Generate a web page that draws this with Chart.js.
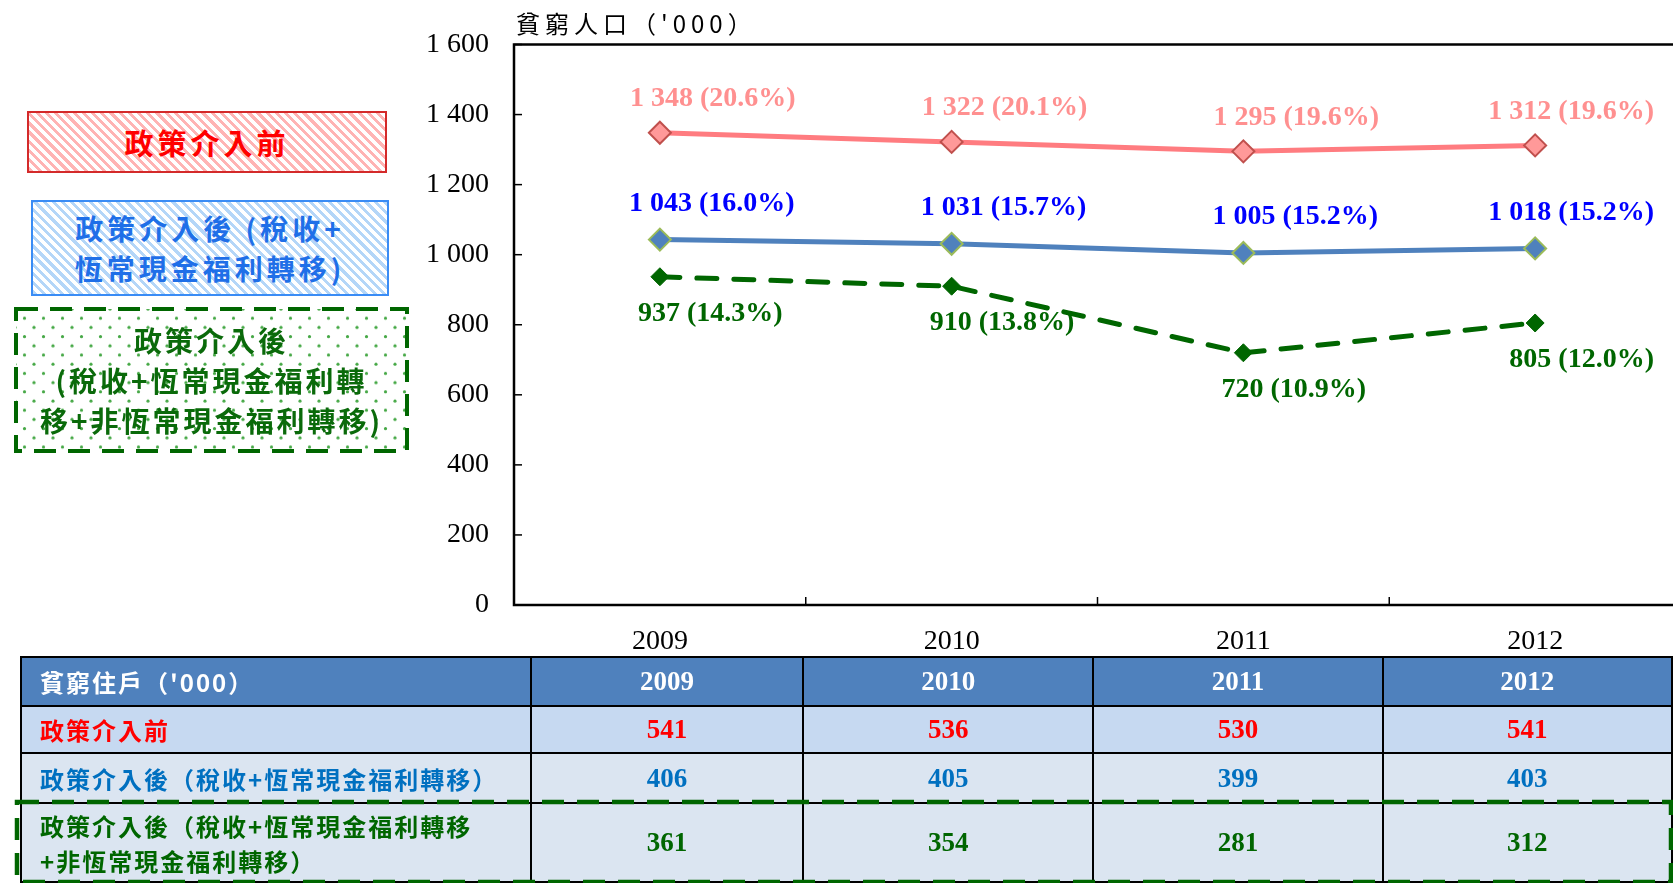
<!DOCTYPE html>
<html>
<head>
<meta charset="utf-8">
<script src="https://cdn.jsdelivr.net/npm/chart.js@4.4.1/dist/chart.umd.min.js"></script>
<style>
  html, body { margin:0; padding:0; background:#fff; width:1673px; height:883px; overflow:hidden; }
  #wrap { position:absolute; left:0; top:0; width:1700px; height:660px; }
  .cjk { font-family:"Noto Sans CJK TC","Noto Sans CJK SC",sans-serif; }
  #ytitle { position:absolute; left:516px; top:5px; font-size:24px; letter-spacing:5px; color:#000; white-space:nowrap; }
  .lbox { position:absolute; display:flex; flex-direction:column; align-items:center; justify-content:center; box-sizing:border-box; font-weight:700; text-align:center; white-space:nowrap; }
  #box1 { left:27px; top:111px; width:360px; height:62px; border:2px solid #D42A2A; color:#FF0000; font-size:29px; letter-spacing:4px;
    background:repeating-linear-gradient(45deg,#FFB4B4 0px,#FFB4B4 3px,#FFFFFF 3px,#FFFFFF 6.5px); }
  #box2 { left:31px; top:200px; width:358px; height:96px; border:2px solid #3A8CF5; color:#1F6FE8; font-size:28px; letter-spacing:4px; line-height:40px;
    background:repeating-linear-gradient(45deg,#B4D6F8 0px,#B4D6F8 3px,#FFFFFF 3px,#FFFFFF 6.5px); }
  #box3svg { position:absolute; left:12px; top:305px; }
  #box3 { left:14px; top:307px; width:395px; height:146px; color:#0A6A0A; font-size:28px; letter-spacing:3px; line-height:40px; }
  #tbl { position:absolute; left:20px; top:656px; border-collapse:collapse; table-layout:fixed; }
  #tbl td { border:2px solid #000; padding:0; box-sizing:border-box; }
  #tbl td.lab { padding-left:18px; text-align:left; font-size:24px; font-weight:700; letter-spacing:2px; white-space:nowrap; }
  #tbl td.val { text-align:center; font-family:"Liberation Serif","Times New Roman",serif; font-weight:700; font-size:27px; }
  #tbl tr.h td { background:#4F81BD; color:#fff; height:49px; }
  #tbl tr.r1 td { background:#C6D9F1; color:#FF0000; height:47px; }
  #tbl tr.r2 td { background:#DBE5F1; color:#0070C0; height:50px; }
  #tbl tr.r3 td { background:#DBE5F1; color:#006600; height:79px; }
  #tbl tr.r3 td.lab { line-height:35px; }
  #row3svg { position:absolute; left:0; top:798px; }
</style>
</head>
<body>
<div id="wrap"><canvas id="c" width="1700" height="660"></canvas></div>
<div id="ytitle" class="cjk"></div>

<div id="box1" class="lbox cjk"></div>
<svg id="box3svg" width="400" height="152">
  <defs>
    <pattern id="dots" width="19" height="18.4" patternUnits="userSpaceOnUse">
      <circle cx="3" cy="4" r="1.6" fill="#45A845"/>
      <circle cx="12.5" cy="13.2" r="1.6" fill="#45A845"/>
    </pattern>
  </defs>
  <rect x="4" y="4" width="391" height="142" fill="url(#dots)" stroke="#006600" stroke-width="4" stroke-dasharray="22 12"/>
</svg>
<div id="box2" class="lbox cjk"></div>
<div id="box3" class="lbox cjk"></div>

<table id="tbl" class="cjk">
  <colgroup><col style="width:510px"><col style="width:273px"><col style="width:291px"><col style="width:290px"><col style="width:290px"></colgroup>
  <tbody id="tb"></tbody>
</table>
<svg id="row3svg" width="1673" height="85">
  <rect x="17" y="4" width="1654" height="80" fill="none" stroke="#006600" stroke-width="4.5" stroke-dasharray="22 13"/>
</svg>

<script>
// ---------- data ----------
const years = ['2009', '2010', '2011', '2012'];
const seriesNames = ['政策介入前', '政策介入後（稅收+恆常現金福利轉移）', '政策介入後（稅收+恆常現金福利轉移+非恆常現金福利轉移）'];
const prePolicy = [1348, 1322, 1295, 1312];
const prePolicyPct = [20.6, 20.1, 19.6, 19.6];
const postRecurrent = [1043, 1031, 1005, 1018];
const postRecurrentPct = [16.0, 15.7, 15.2, 15.2];
const postAll = [937, 910, 720, 805];
const postAllPct = [14.3, 13.8, 10.9, 12.0];
const yTickValues = [0, 200, 400, 600, 800, 1000, 1200, 1400, 1600];
const yTitle = "貧窮人口（'000）";
const legendBox1 = ['政策介入前'];
const legendBox2 = ['政策介入後 (稅收+', '恆常現金福利轉移)'];
const legendBox3 = ['政策介入後', '(稅收+恆常現金福利轉', '移+非恆常現金福利轉移)'];
const tableHeader = "貧窮住戶（'000）";
const tableRowLabels = ['政策介入前', '政策介入後（稅收+恆常現金福利轉移）', ['政策介入後（稅收+恆常現金福利轉移', '+非恆常現金福利轉移）']];
const hhPre = [541, 536, 530, 541];
const hhRecurrent = [406, 405, 399, 403];
const hhAll = [361, 354, 281, 312];

// ---------- helpers ----------
function fmt(v) { return String(v).replace(/\B(?=(\d{3})+(?!\d))/g, ' '); }
function pctLabel(v, p) { return fmt(v) + ' (' + p.toFixed(1) + '%)'; }

// ---------- html parts ----------
document.getElementById('ytitle').textContent = yTitle;
function fillBox(id, lines) {
  const el = document.getElementById(id);
  lines.forEach(t => { const d = document.createElement('div'); d.textContent = t; el.appendChild(d); });
}
fillBox('box1', legendBox1);
fillBox('box2', legendBox2);
fillBox('box3', legendBox3);

const tb = document.getElementById('tb');
function addRow(cls, label, vals) {
  const tr = document.createElement('tr'); tr.className = cls;
  const td = document.createElement('td'); td.className = 'lab';
  if (Array.isArray(label)) { label.forEach(l => { const d = document.createElement('div'); d.textContent = l; td.appendChild(d); }); }
  else td.textContent = label;
  tr.appendChild(td);
  vals.forEach(v => { const c = document.createElement('td'); c.className = 'val'; c.textContent = v; tr.appendChild(c); });
  tb.appendChild(tr);
}
addRow('h', tableHeader, years);
addRow('r1', tableRowLabels[0], hhPre);
addRow('r2', tableRowLabels[1], hhRecurrent);
addRow('r3', tableRowLabels[2], hhAll);

// ---------- chart ----------
const labelSets = [
  { pct: prePolicyPct, color: '#FF9090', dx: -30, dy: -34 },
  { pct: postRecurrentPct, color: '#0000FF', dx: -31, dy: -36 },
  { pct: postAllPct, color: '#006600', dx: -22, dy: 37 }
];

const framePlugin = {
  id: 'frame',
  afterDraw(chart) {
    const { ctx, chartArea: a, scales } = chart;
    ctx.save();
    ctx.strokeStyle = '#000';
    ctx.lineWidth = 2.5;
    ctx.strokeRect(a.left, a.top, a.right - a.left, a.bottom - a.top);
    ctx.lineWidth = 1.5;
    yTickValues.forEach(v => {
      const y = scales.y.getPixelForValue(v);
      ctx.beginPath(); ctx.moveTo(a.left, y); ctx.lineTo(a.left + 8, y); ctx.stroke();
    });
    for (let i = 1; i < years.length; i++) {
      const x = (scales.x.getPixelForValue(i - 1) + scales.x.getPixelForValue(i)) / 2;
      ctx.beginPath(); ctx.moveTo(x, a.bottom); ctx.lineTo(x, a.bottom - 8); ctx.stroke();
    }
    ctx.restore();
  },
  afterDatasetsDraw(chart) {
    const { ctx } = chart;
    ctx.save();
    ctx.font = 'bold 28px "Liberation Serif", "Times New Roman", serif';
    ctx.textBaseline = 'middle';
    ctx.textAlign = 'left';
    chart.data.datasets.forEach((ds, di) => {
      const meta = chart.getDatasetMeta(di);
      const ls = labelSets[di];
      meta.data.forEach((pt, i) => {
        const txt = pctLabel(ds.data[i], ls.pct[i]);
        const w = ctx.measureText(txt).width;
        let x = pt.x + ls.dx;
        if (x + w > 1654) x = 1654 - w;
        ctx.fillStyle = ls.color;
        ctx.fillText(txt, x, pt.y + ls.dy);
      });
    });
    ctx.restore();
  }
};

new Chart(document.getElementById('c'), {
  type: 'line',
  data: {
    labels: years,
    datasets: [
      { label: seriesNames[0], data: prePolicy, borderColor: '#FF7C80', borderWidth: 5,
        pointStyle: 'rectRot', pointRadius: 11, pointBackgroundColor: '#FF9999', pointBorderColor: '#C0504D', pointBorderWidth: 2, tension: 0 },
      { label: seriesNames[1], data: postRecurrent, borderColor: '#4F81BD', borderWidth: 5,
        pointStyle: 'rectRot', pointRadius: 11, pointBackgroundColor: '#4F81BD', pointBorderColor: '#9BBB59', pointBorderWidth: 2, tension: 0 },
      { label: seriesNames[2], data: postAll, borderColor: '#006600', borderWidth: 5, borderDash: [20, 17], borderCapStyle: 'round',
        pointStyle: 'rectRot', pointRadius: 9, pointBackgroundColor: '#006600', pointBorderColor: '#006600', pointBorderWidth: 1, tension: 0 }
    ]
  },
  options: {
    responsive: false,
    animation: false,
    events: [],
    layout: { padding: { top: 44.5, right: 19, left: 0, bottom: 0 } },
    plugins: { legend: { display: false }, tooltip: { enabled: false }, title: { display: false } },
    scales: {
      x: {
        offset: true,
        grid: { display: false, drawTicks: false },
        border: { display: false },
        ticks: { color: '#000', padding: 20, maxRotation: 0, autoSkip: false,
          font: { family: '"Liberation Serif", "Times New Roman", serif', size: 28 } },
        afterFit(s) { s.height = 55; }
      },
      y: {
        min: 0, max: 1600,
        afterBuildTicks(s) { s.ticks = yTickValues.map(v => ({ value: v })); },
        grid: { display: false, drawTicks: false },
        border: { display: false },
        ticks: { color: '#000', padding: 25, callback: v => fmt(v),
          font: { family: '"Liberation Serif", "Times New Roman", serif', size: 28 } },
        afterFit(s) { s.width = 514; }
      }
    }
  },
  plugins: [framePlugin]
});
</script>
</body>
</html>
